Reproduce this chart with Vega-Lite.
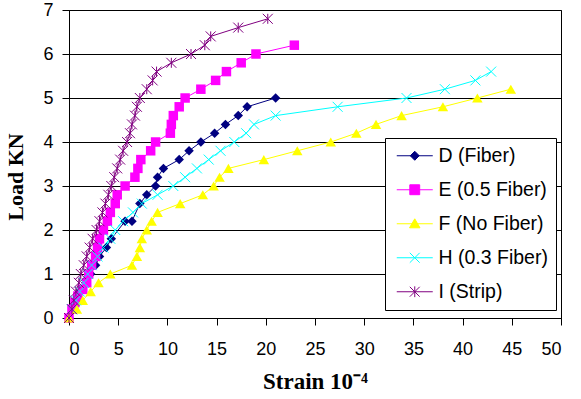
{
  "$schema": "https://vega.github.io/schema/vega-lite/v6.json",
  "width": 492,
  "height": 308,
  "autosize": {"type": "none"},
  "padding": {"left": 69, "top": 10, "right": 20, "bottom": 81},
  "background": "white",
  "config": {
    "view": {"stroke": "black", "strokeWidth": 1},
    "axis": {
      "domainColor": "black",
      "tickColor": "black",
      "tickSize": 7,
      "labelFont": "Liberation Sans",
      "labelFontSize": 18,
      "labelColor": "black",
      "titleColor": "black",
      "titleFont": "Liberation Serif",
      "titleFontWeight": "bold"
    }
  },
  "data": {
    "values": [
      {"specimen": "D (Fiber)", "strain": 0, "load": 0},
      {"specimen": "D (Fiber)", "strain": 0.4, "load": 0.2},
      {"specimen": "D (Fiber)", "strain": 0.8, "load": 0.4},
      {"specimen": "D (Fiber)", "strain": 1.2, "load": 0.6},
      {"specimen": "D (Fiber)", "strain": 1.7, "load": 0.8},
      {"specimen": "D (Fiber)", "strain": 2.2, "load": 1.0},
      {"specimen": "D (Fiber)", "strain": 2.7, "load": 1.2},
      {"specimen": "D (Fiber)", "strain": 3.1, "load": 1.4},
      {"specimen": "D (Fiber)", "strain": 3.8, "load": 1.6},
      {"specimen": "D (Fiber)", "strain": 4.3, "load": 1.8},
      {"specimen": "D (Fiber)", "strain": 5.7, "load": 2.2},
      {"specimen": "D (Fiber)", "strain": 6.4, "load": 2.2},
      {"specimen": "D (Fiber)", "strain": 7.2, "load": 2.6},
      {"specimen": "D (Fiber)", "strain": 7.9, "load": 2.8},
      {"specimen": "D (Fiber)", "strain": 8.8, "load": 3.0},
      {"specimen": "D (Fiber)", "strain": 9.0, "load": 3.2},
      {"specimen": "D (Fiber)", "strain": 9.6, "load": 3.4},
      {"specimen": "D (Fiber)", "strain": 11.2, "load": 3.6},
      {"specimen": "D (Fiber)", "strain": 12.2, "load": 3.8},
      {"specimen": "D (Fiber)", "strain": 13.4, "load": 4.0},
      {"specimen": "D (Fiber)", "strain": 14.8, "load": 4.2},
      {"specimen": "D (Fiber)", "strain": 15.9, "load": 4.4},
      {"specimen": "D (Fiber)", "strain": 17.2, "load": 4.6},
      {"specimen": "D (Fiber)", "strain": 18.1, "load": 4.8},
      {"specimen": "D (Fiber)", "strain": 21.0, "load": 5.0},

      {"specimen": "E (0.5 Fiber)", "strain": 0, "load": 0},
      {"specimen": "E (0.5 Fiber)", "strain": 0.3, "load": 0.2},
      {"specimen": "E (0.5 Fiber)", "strain": 0.6, "load": 0.35},
      {"specimen": "E (0.5 Fiber)", "strain": 0.9, "load": 0.5},
      {"specimen": "E (0.5 Fiber)", "strain": 1.4, "load": 0.65},
      {"specimen": "E (0.5 Fiber)", "strain": 1.8, "load": 0.8},
      {"specimen": "E (0.5 Fiber)", "strain": 2.0, "load": 1.0},
      {"specimen": "E (0.5 Fiber)", "strain": 2.3, "load": 1.2},
      {"specimen": "E (0.5 Fiber)", "strain": 2.7, "load": 1.4},
      {"specimen": "E (0.5 Fiber)", "strain": 2.9, "load": 1.6},
      {"specimen": "E (0.5 Fiber)", "strain": 3.1, "load": 1.8},
      {"specimen": "E (0.5 Fiber)", "strain": 3.5, "load": 2.0},
      {"specimen": "E (0.5 Fiber)", "strain": 3.9, "load": 2.2},
      {"specimen": "E (0.5 Fiber)", "strain": 4.2, "load": 2.4},
      {"specimen": "E (0.5 Fiber)", "strain": 4.7, "load": 2.6},
      {"specimen": "E (0.5 Fiber)", "strain": 4.9, "load": 2.8},
      {"specimen": "E (0.5 Fiber)", "strain": 5.7, "load": 3.0},
      {"specimen": "E (0.5 Fiber)", "strain": 6.7, "load": 3.2},
      {"specimen": "E (0.5 Fiber)", "strain": 7.0, "load": 3.4},
      {"specimen": "E (0.5 Fiber)", "strain": 7.3, "load": 3.6},
      {"specimen": "E (0.5 Fiber)", "strain": 8.3, "load": 3.8},
      {"specimen": "E (0.5 Fiber)", "strain": 8.8, "load": 4.0},
      {"specimen": "E (0.5 Fiber)", "strain": 10.3, "load": 4.2},
      {"specimen": "E (0.5 Fiber)", "strain": 10.4, "load": 4.4},
      {"specimen": "E (0.5 Fiber)", "strain": 10.6, "load": 4.6},
      {"specimen": "E (0.5 Fiber)", "strain": 11.2, "load": 4.8},
      {"specimen": "E (0.5 Fiber)", "strain": 11.8, "load": 5.0},
      {"specimen": "E (0.5 Fiber)", "strain": 13.4, "load": 5.2},
      {"specimen": "E (0.5 Fiber)", "strain": 14.9, "load": 5.4},
      {"specimen": "E (0.5 Fiber)", "strain": 16.0, "load": 5.6},
      {"specimen": "E (0.5 Fiber)", "strain": 17.5, "load": 5.8},
      {"specimen": "E (0.5 Fiber)", "strain": 19.0, "load": 6.0},
      {"specimen": "E (0.5 Fiber)", "strain": 22.9, "load": 6.2},

      {"specimen": "F (No Fiber)", "strain": 0, "load": 0},
      {"specimen": "F (No Fiber)", "strain": 0.8, "load": 0.2},
      {"specimen": "F (No Fiber)", "strain": 1.4, "load": 0.4},
      {"specimen": "F (No Fiber)", "strain": 2.2, "load": 0.6},
      {"specimen": "F (No Fiber)", "strain": 3.0, "load": 0.8},
      {"specimen": "F (No Fiber)", "strain": 4.2, "load": 1.0},
      {"specimen": "F (No Fiber)", "strain": 6.4, "load": 1.2},
      {"specimen": "F (No Fiber)", "strain": 6.9, "load": 1.4},
      {"specimen": "F (No Fiber)", "strain": 7.2, "load": 1.6},
      {"specimen": "F (No Fiber)", "strain": 7.4, "load": 1.8},
      {"specimen": "F (No Fiber)", "strain": 7.9, "load": 2.0},
      {"specimen": "F (No Fiber)", "strain": 8.4, "load": 2.2},
      {"specimen": "F (No Fiber)", "strain": 9.0, "load": 2.4},
      {"specimen": "F (No Fiber)", "strain": 11.3, "load": 2.6},
      {"specimen": "F (No Fiber)", "strain": 13.6, "load": 2.8},
      {"specimen": "F (No Fiber)", "strain": 14.7, "load": 3.0},
      {"specimen": "F (No Fiber)", "strain": 15.3, "load": 3.2},
      {"specimen": "F (No Fiber)", "strain": 16.2, "load": 3.4},
      {"specimen": "F (No Fiber)", "strain": 19.8, "load": 3.6},
      {"specimen": "F (No Fiber)", "strain": 23.2, "load": 3.8},
      {"specimen": "F (No Fiber)", "strain": 26.6, "load": 4.0},
      {"specimen": "F (No Fiber)", "strain": 29.2, "load": 4.2},
      {"specimen": "F (No Fiber)", "strain": 31.2, "load": 4.4},
      {"specimen": "F (No Fiber)", "strain": 33.8, "load": 4.6},
      {"specimen": "F (No Fiber)", "strain": 38.0, "load": 4.8},
      {"specimen": "F (No Fiber)", "strain": 41.5, "load": 5.0},
      {"specimen": "F (No Fiber)", "strain": 44.9, "load": 5.2},

      {"specimen": "H (0.3 Fiber)", "strain": 0, "load": 0},
      {"specimen": "H (0.3 Fiber)", "strain": 0.3, "load": 0.2},
      {"specimen": "H (0.3 Fiber)", "strain": 0.7, "load": 0.4},
      {"specimen": "H (0.3 Fiber)", "strain": 1.1, "load": 0.6},
      {"specimen": "H (0.3 Fiber)", "strain": 1.5, "load": 0.8},
      {"specimen": "H (0.3 Fiber)", "strain": 1.9, "load": 1.0},
      {"specimen": "H (0.3 Fiber)", "strain": 2.3, "load": 1.2},
      {"specimen": "H (0.3 Fiber)", "strain": 2.9, "load": 1.4},
      {"specimen": "H (0.3 Fiber)", "strain": 3.5, "load": 1.6},
      {"specimen": "H (0.3 Fiber)", "strain": 4.2, "load": 1.8},
      {"specimen": "H (0.3 Fiber)", "strain": 4.7, "load": 2.0},
      {"specimen": "H (0.3 Fiber)", "strain": 5.5, "load": 2.2},
      {"specimen": "H (0.3 Fiber)", "strain": 6.5, "load": 2.4},
      {"specimen": "H (0.3 Fiber)", "strain": 7.4, "load": 2.6},
      {"specimen": "H (0.3 Fiber)", "strain": 9.0, "load": 2.8},
      {"specimen": "H (0.3 Fiber)", "strain": 10.6, "load": 3.0},
      {"specimen": "H (0.3 Fiber)", "strain": 11.8, "load": 3.2},
      {"specimen": "H (0.3 Fiber)", "strain": 13.0, "load": 3.4},
      {"specimen": "H (0.3 Fiber)", "strain": 14.2, "load": 3.6},
      {"specimen": "H (0.3 Fiber)", "strain": 15.4, "load": 3.8},
      {"specimen": "H (0.3 Fiber)", "strain": 16.8, "load": 4.0},
      {"specimen": "H (0.3 Fiber)", "strain": 18.0, "load": 4.2},
      {"specimen": "H (0.3 Fiber)", "strain": 18.8, "load": 4.4},
      {"specimen": "H (0.3 Fiber)", "strain": 21.0, "load": 4.6},
      {"specimen": "H (0.3 Fiber)", "strain": 27.3, "load": 4.8},
      {"specimen": "H (0.3 Fiber)", "strain": 34.3, "load": 5.0},
      {"specimen": "H (0.3 Fiber)", "strain": 38.2, "load": 5.2},
      {"specimen": "H (0.3 Fiber)", "strain": 41.3, "load": 5.4},
      {"specimen": "H (0.3 Fiber)", "strain": 42.9, "load": 5.6},

      {"specimen": "I (Strip)", "strain": 0, "load": 0},
      {"specimen": "I (Strip)", "strain": 0.3, "load": 0.2},
      {"specimen": "I (Strip)", "strain": 0.5, "load": 0.4},
      {"specimen": "I (Strip)", "strain": 0.7, "load": 0.6},
      {"specimen": "I (Strip)", "strain": 1.0, "load": 0.8},
      {"specimen": "I (Strip)", "strain": 1.2, "load": 1.0},
      {"specimen": "I (Strip)", "strain": 1.5, "load": 1.2},
      {"specimen": "I (Strip)", "strain": 1.8, "load": 1.4},
      {"specimen": "I (Strip)", "strain": 2.1, "load": 1.6},
      {"specimen": "I (Strip)", "strain": 2.4, "load": 1.8},
      {"specimen": "I (Strip)", "strain": 2.8, "load": 2.0},
      {"specimen": "I (Strip)", "strain": 3.1, "load": 2.2},
      {"specimen": "I (Strip)", "strain": 3.4, "load": 2.4},
      {"specimen": "I (Strip)", "strain": 3.7, "load": 2.6},
      {"specimen": "I (Strip)", "strain": 4.0, "load": 2.8},
      {"specimen": "I (Strip)", "strain": 4.3, "load": 3.0},
      {"specimen": "I (Strip)", "strain": 4.6, "load": 3.2},
      {"specimen": "I (Strip)", "strain": 4.9, "load": 3.4},
      {"specimen": "I (Strip)", "strain": 5.2, "load": 3.6},
      {"specimen": "I (Strip)", "strain": 5.5, "load": 3.8},
      {"specimen": "I (Strip)", "strain": 5.9, "load": 4.0},
      {"specimen": "I (Strip)", "strain": 6.2, "load": 4.2},
      {"specimen": "I (Strip)", "strain": 6.4, "load": 4.4},
      {"specimen": "I (Strip)", "strain": 6.7, "load": 4.6},
      {"specimen": "I (Strip)", "strain": 6.9, "load": 4.8},
      {"specimen": "I (Strip)", "strain": 7.2, "load": 5.0},
      {"specimen": "I (Strip)", "strain": 7.9, "load": 5.2},
      {"specimen": "I (Strip)", "strain": 8.5, "load": 5.4},
      {"specimen": "I (Strip)", "strain": 8.9, "load": 5.6},
      {"specimen": "I (Strip)", "strain": 10.4, "load": 5.8},
      {"specimen": "I (Strip)", "strain": 12.4, "load": 6.0},
      {"specimen": "I (Strip)", "strain": 13.8, "load": 6.2},
      {"specimen": "I (Strip)", "strain": 14.4, "load": 6.4},
      {"specimen": "I (Strip)", "strain": 17.2, "load": 6.6},
      {"specimen": "I (Strip)", "strain": 20.2, "load": 6.8}
    ]
  },
  "encoding": {
    "x": {
      "field": "strain",
      "type": "quantitative",
      "scale": {"domain": [0, 50], "nice": false, "zero": false},
      "axis": {
        "values": [0, 5, 10, 15, 20, 25, 30, 35, 40, 45, 50],
        "grid": false,
        "labelPadding": 15,
        "title": "Strain  10⁻⁴",
        "titleFontSize": 23,
        "titleBaseline": "alphabetic",
        "titleY": 70
      }
    },
    "y": {
      "field": "load",
      "type": "quantitative",
      "scale": {"domain": [0, 7], "nice": false},
      "axis": {
        "values": [0, 1, 2, 3, 4, 5, 6, 7],
        "grid": true,
        "gridColor": "black",
        "gridOpacity": 1,
        "gridWidth": 1,
        "labelPadding": 9,
        "title": "Load KN",
        "titleFontSize": 22,
        "titleAngle": -90,
        "titleAlign": "center",
        "titleBaseline": "middle",
        "titleX": -53.5,
        "titleY": 166.5
      }
    },
    "color": {
      "field": "specimen",
      "type": "nominal",
      "scale": {
        "domain": ["D (Fiber)", "E (0.5 Fiber)", "F (No Fiber)", "H (0.3 Fiber)", "I (Strip)"],
        "range": ["#000080", "#FF00FF", "#FFFF00", "#00FFFF", "#800080"]
      },
      "legend": {
        "orient": "none",
        "legendX": 316,
        "legendY": 128,
        "title": null,
        "strokeColor": "black",
        "fillColor": "white",
        "padding": 8,
        "labelFont": "Liberation Sans",
        "labelFontSize": 19.5,
        "labelColor": "black",
        "symbolSize": 324,
        "rowPadding": 13,
        "symbolOffset": 12,
        "labelOffset": 14,
        "encode": {
          "symbols": {
            "update": {
              "shape": {"signal": "datum.value === 'D (Fiber)' ? 'M-2,0H2M0,-0.5L0.5,0L0,0.5L-0.5,0Z' : datum.value === 'E (0.5 Fiber)' ? 'M-2,0H2M-0.55,-0.55H0.55V0.55H-0.55Z' : datum.value === 'F (No Fiber)' ? 'M-2,0H2M0,-0.55L0.58,0.45H-0.58Z' : datum.value === 'H (0.3 Fiber)' ? 'M-2,0H2M-0.55,-0.55L0.55,0.55M-0.55,0.55L0.55,-0.55' : 'M-2,0H2M-0.55,-0.55L0.55,0.55M-0.55,0.55L0.55,-0.55M0,-0.6V0.6'"},
              "fill": {"signal": "(datum.value === 'H (0.3 Fiber)' || datum.value === 'I (Strip)') ? 'transparent' : scale('color', datum.value)"},
              "stroke": {"signal": "scale('color', datum.value)"},
              "strokeWidth": {"value": 1},
              "size": {"value": 324},
              "opacity": {"value": 1}
            }
          }
        }
      }
    }
  },
  "layer": [
    {"mark": {"type": "line", "strokeWidth": 1}},
    {
      "transform": [{"filter": {"field": "specimen", "equal": "D (Fiber)"}}],
      "mark": {"type": "point", "shape": "diamond", "filled": true, "size": 90, "opacity": 1}
    },
    {
      "transform": [{"filter": {"field": "specimen", "equal": "E (0.5 Fiber)"}}],
      "mark": {"type": "point", "shape": "square", "filled": true, "size": 90, "opacity": 1}
    },
    {
      "transform": [{"filter": {"field": "specimen", "equal": "F (No Fiber)"}}],
      "mark": {"type": "point", "shape": "triangle-up", "filled": true, "size": 110, "opacity": 1}
    },
    {
      "transform": [{"filter": {"field": "specimen", "equal": "H (0.3 Fiber)"}}],
      "mark": {"type": "point", "shape": "M-1,-1L1,1M-1,1L1,-1", "filled": false, "size": 100, "strokeWidth": 1, "opacity": 1}
    },
    {
      "transform": [{"filter": {"field": "specimen", "equal": "I (Strip)"}}],
      "mark": {"type": "point", "shape": "M-1,-1L1,1M-1,1L1,-1M0,-1V1", "filled": false, "size": 100, "strokeWidth": 1, "opacity": 1}
    }
  ]
}
